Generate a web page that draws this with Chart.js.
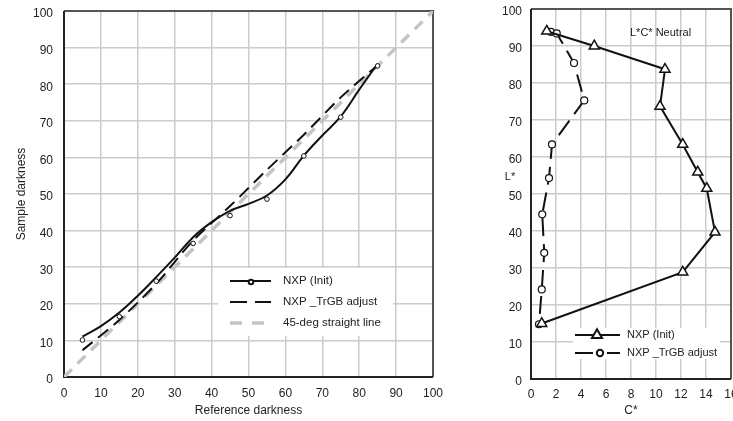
<!DOCTYPE html>
<html>
<head>
<meta charset="utf-8">
<script src="https://cdn.jsdelivr.net/npm/chart.js@4.4.1/dist/chart.umd.min.js"></script>
<style>
  html, body { margin: 0; padding: 0; background: #fff; overflow: hidden; }
  #left { position: absolute; left: 0; top: 0; width: 445px; height: 421px; }
  #right { position: absolute; left: 490px; top: 0; width: 250px; height: 421px; }
</style>
</head>
<body>
<div id="left"><canvas id="darknessChart"></canvas></div>
<div id="right"><canvas id="neutralChart"></canvas></div>
<script>
// left chart: darkness tracking
const seriesNames = ['NXP (Init)', 'NXP _TrGB adjust', '45-deg straight line'];
const refLevels = [5, 15, 25, 35, 45, 55, 65, 75, 85];
const initMeasured = [10.1, 16.5, 26.2, 36.5, 44.1, 48.6, 60.4, 71.0, 85.0];
const initSmoothX = [5, 10, 15, 20, 25, 30, 35, 40, 45, 50, 55, 60, 65, 70, 75, 80, 85];
const initSmooth = [11.0, 13.9, 17.6, 22.2, 27.3, 32.6, 38.2, 42.3, 45.4, 47.3, 49.6, 54.0, 60.5, 66.0, 71.2, 78.5, 85.6];
const trgbAdjust = [7.3, 15.6, 25.5, 37.3, 46.7, 56.6, 66.2, 76.4, 85.2];
const diagonal = [0, 100];
const darkTicks = [0, 10, 20, 30, 40, 50, 60, 70, 80, 90, 100];

// right chart: L*C* neutral
const neutralNames = ['NXP (Init)', 'NXP _TrGB adjust'];
const initC = [1.26, 5.06, 10.72, 10.32, 12.14, 13.34, 14.06, 14.72, 12.14, 0.86];
const initL = [94.0, 90.0, 83.7, 73.7, 63.4, 55.9, 51.5, 39.7, 28.9, 15.0];
const trgbC = [1.6, 2.06, 3.44, 4.26, 1.68, 1.44, 0.9, 1.06, 0.86, 0.64];
const trgbL = [93.8, 93.4, 85.4, 75.3, 63.4, 54.3, 44.5, 34.1, 24.2, 14.8];
const cTicks = [0, 2, 4, 6, 8, 10, 12, 14, 16];
const lTicks = [0, 10, 20, 30, 40, 50, 60, 70, 80, 90, 100];
const neutralTitle = 'L*C* Neutral';
const lAxisName = 'L*';

const FONT = "'Liberation Sans', Arial, sans-serif";
Chart.defaults.font.family = FONT;
Chart.defaults.color = '#222';

const pts = (xs, ys) => xs.map((x, i) => ({ x: x, y: ys[i] }));

// frame round the plot area
const framePlugin = {
  id: 'frame',
  beforeDatasetsDraw(chart) {
    const { ctx, chartArea: a } = chart;
    ctx.save();
    ctx.lineWidth = 2;
    ctx.strokeStyle = '#555';
    ctx.beginPath();
    ctx.moveTo(a.left, a.top); ctx.lineTo(a.right, a.top); ctx.lineTo(a.right, a.bottom);
    ctx.stroke();
    ctx.strokeStyle = '#222';
    ctx.beginPath();
    ctx.moveTo(a.left, a.top); ctx.lineTo(a.left, a.bottom); ctx.lineTo(a.right, a.bottom);
    ctx.stroke();
    ctx.restore();
  }
};

// legend in a white box inside the plot
const boxLegend = {
  id: 'boxLegend',
  afterDraw(chart, args, o) {
    const ctx = chart.ctx;
    ctx.save();
    ctx.fillStyle = '#fff';
    ctx.fillRect(o.x, o.y, o.w, o.h);
    o.items.forEach((it, i) => {
      const y = o.y + o.first + i * o.gap;
      const x0 = o.x + o.lineX;
      ctx.strokeStyle = it.color;
      ctx.lineWidth = it.width;
      ctx.setLineDash(it.dash || []);
      ctx.beginPath();
      ctx.moveTo(x0, y);
      ctx.lineTo(x0 + o.lineW, y);
      ctx.stroke();
      ctx.setLineDash([]);
      if (it.marker) {
        ctx.fillStyle = '#fff';
        ctx.strokeStyle = '#111';
        Chart.helpers.drawPoint(ctx, { pointStyle: it.marker, radius: it.radius, borderWidth: 1.2, rotation: 0 },
          x0 + it.markerAt, y + (it.markerDy || 0));
      }
      ctx.fillStyle = '#222';
      ctx.font = o.font + 'px ' + FONT;
      ctx.textBaseline = 'middle';
      ctx.textAlign = 'left';
      ctx.fillText(it.label, o.x + o.textX, y);
    });
    ctx.restore();
  }
};

// free text labels
const notes = {
  id: 'notes',
  afterDraw(chart, args, o) {
    const ctx = chart.ctx;
    ctx.save();
    ctx.fillStyle = '#222';
    ctx.textBaseline = 'middle';
    (o.items || []).forEach(n => {
      ctx.font = n.size + 'px ' + FONT;
      ctx.textAlign = n.align;
      ctx.fillText(n.text, n.x, n.y);
    });
    ctx.restore();
  }
};

function axis(min, max, step, tickList, title, fit) {
  return {
    type: 'linear', min: min, max: max,
    afterBuildTicks: s => { s.ticks = tickList.map(v => ({ value: v })); },
    ticks: { stepSize: step, autoSkip: false, maxRotation: 0, padding: fit.pad, labelOffset: fit.offset || 0,
      color: '#222', font: { size: 12 } },
    grid: { color: '#cccccc', lineWidth: 1.5, drawTicks: false },
    border: { display: false },
    title: title,
    afterFit: s => {
      if (fit.width) s.width = fit.width;
      if (fit.height) s.height = fit.height;
      s.paddingLeft = 0; s.paddingRight = 0; s.paddingTop = 0; s.paddingBottom = 0;
    }
  };
}

new Chart(document.getElementById('darknessChart'), {
  type: 'line',
  data: {
    datasets: [
      { label: seriesNames[0], data: pts(refLevels, initMeasured), showLine: false,
        pointStyle: 'circle', pointRadius: 2.3, pointBackgroundColor: '#fff', pointBorderColor: '#111', pointBorderWidth: 1 },
      { label: seriesNames[0], data: pts(initSmoothX, initSmooth), borderColor: '#111', borderWidth: 2,
        pointRadius: 0, tension: 0.4 },
      { label: seriesNames[1], data: pts(refLevels, trgbAdjust), borderColor: '#111', borderWidth: 2,
        borderDash: [13, 7], pointRadius: 0, tension: 0.3 },
      { label: seriesNames[2], data: pts(diagonal, diagonal), borderColor: '#c4c4c4', borderWidth: 3.5,
        borderDash: [11, 8], pointRadius: 0 }
    ]
  },
  options: {
    responsive: true, maintainAspectRatio: false, animation: false,
    layout: { padding: { top: 11, right: 12, left: 0, bottom: 0 } },
    scales: {
      x: axis(0, 100, 10, darkTicks,
        { display: true, text: 'Reference darkness', color: '#222', font: { size: 12 }, padding: { top: 0, bottom: 3 } },
        { height: 44, pad: 9 }),
      y: axis(0, 100, 10, darkTicks,
        { display: true, text: 'Sample darkness', color: '#222', font: { size: 12 }, padding: { top: 14, bottom: 0 } },
        { width: 64, pad: 11, offset: 3 })
    },
    plugins: {
      legend: { display: false },
      tooltip: { enabled: false },
      boxLegend: {
        x: 218, y: 268, w: 175, h: 68, first: 13, gap: 21, lineX: 12, lineW: 41, textX: 65, font: 11.5,
        items: [
          { label: seriesNames[0], color: '#111', width: 2, marker: 'circle', radius: 2.3, markerAt: 21, markerDy: 1 },
          { label: seriesNames[1], color: '#111', width: 2, dash: [17, 8] },
          { label: seriesNames[2], color: '#c4c4c4', width: 3.5, dash: [12, 10] }
        ]
      }
    }
  },
  plugins: [framePlugin, boxLegend]
});

new Chart(document.getElementById('neutralChart'), {
  type: 'line',
  data: {
    datasets: [
      { label: neutralNames[0], data: pts(initC, initL), borderColor: '#111', borderWidth: 2, tension: 0,
        pointStyle: 'triangle', pointRadius: 5.8, pointBackgroundColor: '#fff', pointBorderColor: '#111', pointBorderWidth: 1.5 },
      { label: neutralNames[1], data: pts(trgbC, trgbL), borderColor: '#111', borderWidth: 2, tension: 0,
        borderDash: [18, 8], pointStyle: 'circle', pointRadius: 3.5, pointBackgroundColor: '#fff',
        pointBorderColor: '#111', pointBorderWidth: 1.2 }
    ]
  },
  options: {
    responsive: true, maintainAspectRatio: false, animation: false,
    layout: { padding: { top: 9, right: 9, left: 0, bottom: 0 } },
    scales: {
      x: axis(0, 16, 2, cTicks,
        { display: true, text: 'C*', color: '#222', font: { size: 12 }, padding: { top: 0, bottom: 3 } },
        { height: 42, pad: 8 }),
      y: axis(0, 100, 10, lTicks, { display: false }, { width: 41, pad: 9, offset: 3 })
    },
    plugins: {
      legend: { display: false },
      tooltip: { enabled: false },
      boxLegend: {
        x: 83, y: 328, w: 147, h: 31, first: 7, gap: 18, lineX: 2, lineW: 45, textX: 54, font: 11,
        items: [
          { label: neutralNames[0], color: '#111', width: 2, marker: 'triangle', radius: 5.8, markerAt: 22 },
          { label: neutralNames[1], color: '#111', width: 2, dash: [18, 14], marker: 'circle', radius: 3.2, markerAt: 25 }
        ]
      },
      notes: {
        items: [
          { text: neutralTitle, x: 140, y: 33, size: 11, align: 'left' },
          { text: lAxisName, x: 20, y: 177, size: 11, align: 'center' }
        ]
      }
    }
  },
  plugins: [framePlugin, boxLegend, notes]
});
</script>
</body>
</html>
